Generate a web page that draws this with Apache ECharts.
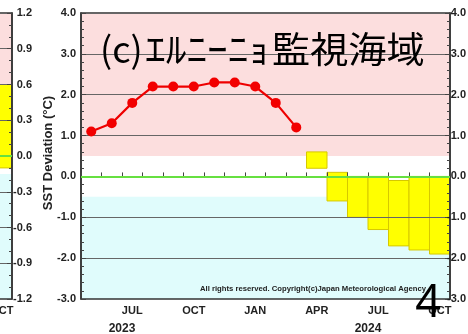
<!DOCTYPE html>
<html>
<head>
<meta charset="utf-8">
<script src="https://cdn.jsdelivr.net/npm/echarts@6/dist/echarts.min.js"></script>
<style>
html,body{margin:0;padding:0;background:#fff}
#c{width:468px;height:334px}
</style>
</head>
<body>
<div id="c"></div>
<script>
// Monthly months shown on both panels (May 2023 - Oct 2024)
const months = ['MAY','JUN','JUL','AUG','SEP','OCT','NOV','DEC','JAN','FEB','MAR','APR','MAY','JUN','JUL','AUG','SEP','OCT'];
const years = ['2023', '2024'];

// (c) El Niño monitoring region: observed SST deviation (°C)
const observed = [1.1, 1.3, 1.8, 2.2, 2.2, 2.2, 2.3, 2.3, 2.2, 1.8, 1.2, null, null, null, null, null, null, null];
// forecast range (70% probability band), lower / upper edge
const rangeLow  = [null, null, null, null, null, null, null, null, null, null, null, 0.2, -0.6, -1.0, -1.3, -1.7, -1.8, -1.9];
const rangeHigh = [null, null, null, null, null, null, null, null, null, null, null, 0.6,  0.1,  0.0,  0.0, -0.1,  0.0,  0.0];
const normalLimit = 0.5;

// neighbouring panel on the left: only its final month is in view
const sideLow  = [null, null, null, null, null, null, null, null, null, null, null, null, null, null, null, null, null, -0.1];
const sideHigh = [null, null, null, null, null, null, null, null, null, null, null, null, null, null, null, null, null, 0.6];
const sideLimit = 0.15;

const NARROW = '"Liberation Sans Narrow", "Liberation Sans", Arial, sans-serif';
const PINK = '#fcdede';
const CYAN = '#e0fcfc';
const TEXT = '#222';

// warm / normal / cold shading behind each panel
function bandSeries(xi, yi, limit, z) {
  return {
    type: 'custom', xAxisIndex: xi, yAxisIndex: yi, z: z, silent: true,
    data: [[0, 0]],
    renderItem: function (params, api) {
      const cs = params.coordSys;
      const yHi = api.coord([0, limit])[1];
      const yLo = api.coord([0, -limit])[1];
      return { type: 'group', children: [
        { type: 'rect', shape: { x: cs.x, y: cs.y, width: cs.width, height: yHi - cs.y }, style: { fill: PINK } },
        { type: 'rect', shape: { x: cs.x, y: yLo, width: cs.width, height: cs.y + cs.height - yLo }, style: { fill: CYAN } }
      ]};
    }
  };
}

// yellow monthly boxes spanning the forecast range
function rangeSeries(xi, yi, low, high, z) {
  const data = [];
  low.forEach(function (v, i) { if (v != null) data.push([i, v, high[i]]); });
  return {
    type: 'custom', xAxisIndex: xi, yAxisIndex: yi, z: z, silent: true,
    data: data, encode: { x: 0, y: [1, 2] },
    renderItem: function (params, api) {
      const top = api.coord([api.value(0), api.value(2)]);
      const bot = api.coord([api.value(0), api.value(1)]);
      const w = api.size([1, 0])[0];
      return { type: 'rect',
        shape: { x: top[0] - w / 2, y: top[1], width: w, height: bot[1] - top[1] },
        style: { fill: '#ffff00', stroke: '#d6c800', lineWidth: 1 } };
    }
  };
}

function zeroLine() {
  return { silent: true, symbol: 'none', label: { show: false },
    lineStyle: { color: '#66e040', width: 2, type: 'solid' },
    data: [{ yAxis: 0 }] };
}

const labelStyle = { color: TEXT, fontFamily: NARROW, fontWeight: 'bold', fontSize: 11 };

function monthAxis(gi) {
  return {
    gridIndex: gi, type: 'category', data: months, boundaryGap: true,
    axisLine: { show: true, lineStyle: { color: '#333', width: 1.5 } },
    axisTick: { show: true, inside: true, interval: 0, length: 4, lineStyle: { color: '#444' } },
    axisLabel: Object.assign({ interval: function (i) { return (i + 1) % 3 === 0; }, margin: 6 }, labelStyle),
    splitLine: { show: true, interval: function (i, v) { return v === 'JAN'; }, lineStyle: { color: '#666', width: 1 } }
  };
}

const chart = echarts.init(document.getElementById('c'), null, { renderer: 'canvas' });

chart.setOption({
  animation: false,
  backgroundColor: '#fff',
  grid: [
    { left: -357, right: 456, top: 13, bottom: 35, show: true, borderColor: '#333', borderWidth: 1.5,
      backgroundColor: 'transparent', containLabel: false, outerBoundsMode: 'none' },
    { left: 81, right: 18, top: 13, bottom: 35, show: true, borderColor: '#333', borderWidth: 1.5,
      backgroundColor: 'transparent', containLabel: false, outerBoundsMode: 'none' }
  ],
  xAxis: [monthAxis(0), monthAxis(1)],
  yAxis: [
    { gridIndex: 0, type: 'value', min: -1.2, max: 1.2, interval: 0.3, position: 'right',
      axisLine: { show: true, lineStyle: { color: '#333', width: 1.5 } },
      axisTick: { show: true, inside: true, length: 5, lineStyle: { color: '#444' } },
      minorTick: { show: true, splitNumber: 3, length: 3, lineStyle: { color: '#444' } },
      axisLabel: Object.assign({ formatter: function (v) { return v.toFixed(1); }, align: 'right', margin: 20 }, labelStyle),
      splitLine: { show: true, lineStyle: { color: '#666', width: 1 } } },
    { gridIndex: 1, type: 'value', min: -3, max: 4, interval: 1, position: 'left',
      axisLine: { show: true, lineStyle: { color: '#333', width: 1.5 } },
      axisTick: { show: true, inside: true, length: 5, lineStyle: { color: '#444' } },
      minorTick: { show: true, splitNumber: 5, length: 3, lineStyle: { color: '#444' } },
      axisLabel: Object.assign({ formatter: function (v) { return v.toFixed(1); }, margin: 5 }, labelStyle),
      splitLine: { show: true, lineStyle: { color: '#666', width: 1 } } },
    { gridIndex: 1, type: 'value', min: -3, max: 4, interval: 1, position: 'right',
      axisLine: { show: true, lineStyle: { color: '#333', width: 1.5 } },
      axisTick: { show: true, inside: true, length: 5, lineStyle: { color: '#444' } },
      minorTick: { show: true, splitNumber: 5, length: 3, lineStyle: { color: '#444' } },
      axisLabel: Object.assign({ formatter: function (v) { return v.toFixed(1); }, align: 'right', margin: 16 }, labelStyle),
      splitLine: { show: false } }
  ],
  series: [
    bandSeries(0, 0, sideLimit, -3),
    rangeSeries(0, 0, sideLow, sideHigh, -2),
    { type: 'line', xAxisIndex: 0, yAxisIndex: 0, data: [], silent: true, markLine: zeroLine() },

    bandSeries(1, 1, normalLimit, -3),
    rangeSeries(1, 1, rangeLow, rangeHigh, -2),
    { type: 'line', xAxisIndex: 1, yAxisIndex: 1, data: observed, z: 4,
      symbol: 'circle', symbolSize: 10, connectNulls: false,
      lineStyle: { color: '#ee0000', width: 2.2 },
      itemStyle: { color: '#f20000' },
      markLine: zeroLine() }
  ]
});

// year captions centred on mid-year (1 July) of each year
const half = (chart.convertToPixel({ xAxisIndex: 1 }, 1) - chart.convertToPixel({ xAxisIndex: 1 }, 0)) / 2;
const julIdx = [];
months.forEach(function (m, i) { if (m === 'JUL') julIdx.push(i); });
const yearText = years.map(function (y, k) {
  return { type: 'text', x: chart.convertToPixel({ xAxisIndex: 1 }, julIdx[k]) - half, y: 328.5,
    style: { text: y, fill: TEXT, font: 'bold 12px ' + NARROW, textAlign: 'center', textVerticalAlign: 'middle' } };
});

const CJK = '"Noto Sans CJK JP", "Noto Sans CJK SC", sans-serif';
chart.setOption({
  graphic: yearText.concat([
    // y-axis title, rotated to read bottom-to-top
    { type: 'text', x: 48, y: 153, rotation: Math.PI / 2, z: 10,
      style: { text: 'SST Deviation (°C)', fill: TEXT, font: 'bold 13px "Liberation Sans", Arial, sans-serif',
        textAlign: 'center', textVerticalAlign: 'middle' } },
    { type: 'text', x: 100, y: 49, z: 10,
      style: { text: '(c)', fill: '#000', font: '36px ' + CJK, textVerticalAlign: 'middle' } },
    { type: 'text', x: 145, y: 49, z: 10, scaleX: 1.15,
      style: { text: 'ｴﾙﾆｰﾆｮ', fill: '#000', font: '36px ' + CJK, textVerticalAlign: 'middle' } },
    { type: 'text', x: 272, y: 49, z: 10, scaleX: 1.06,
      style: { text: '監視海域', fill: '#000', font: '36px ' + CJK, textVerticalAlign: 'middle' } },
    { type: 'text', x: 200, y: 288.5, z: 10,
      style: { text: 'All rights reserved. Copyright(c)Japan Meteorological Agency', fill: TEXT,
        font: 'bold 7.7px ' + NARROW, textVerticalAlign: 'middle' } },
    { type: 'text', x: 428, y: 304, z: 10,
      style: { text: '4', fill: '#000', font: '45px "Noto Sans", sans-serif', textAlign: 'center', textVerticalAlign: 'middle' } }
  ])
});
</script>
</body>
</html>
